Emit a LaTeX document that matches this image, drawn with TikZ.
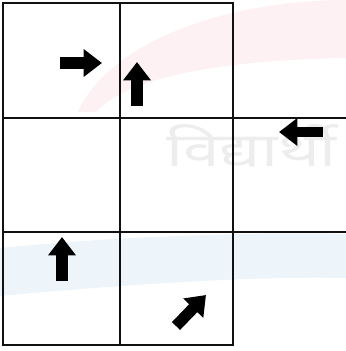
\documentclass[tikz,border=0pt]{standalone}
\usepackage{fontspec}
\usepackage{graphicx}
\newfontfamily\devfont[Script=Devanagari]{Noto Sans}
\usetikzlibrary{arrows.meta}
\definecolor{gridink}{HTML}{111111}
\definecolor{markpink}{HTML}{FDF1F3}
\definecolor{markblue}{HTML}{EDF5FB}
\definecolor{marktext}{HTML}{EDEDED}
\tikzset{
  gridline/.style={line width=1.2pt,draw=gridink},
  move/.style={-{Triangle[width=0.8cm,length=0.55cm]},line width=0.34cm,draw=black},
  watermark/.style={font=\devfont\fontsize{40}{40}\selectfont,text=marktext,inner sep=0pt},
}
\begin{document}
\begin{tikzpicture}[x=0.03cm,y=-0.03cm]
  \useasboundingbox (0,0) rectangle (346,351);
  \clip (0,0) rectangle (346,351);
  % watermark
  \fill[markpink] (78,112) .. controls (110,40) and (230,0) .. (346,0) -- (346,58)
        .. controls (230,60) and (130,75) .. (96,112) -- cycle;
  \fill[markblue] (0,248) .. controls (120,236) and (250,232) .. (346,234) -- (346,278)
        .. controls (250,276) and (120,285) .. (0,296) -- cycle;
  \node[watermark,anchor=base west] (mark) at (166,166) {\scalebox{1.4}[1]{विद्यार्थी}};
  % grid
  \draw[gridline] (3,3) rectangle (233,345);
  \draw[gridline] (120,3) -- (120,345);
  \draw[gridline] (3,118) -- (346,118);
  \draw[gridline] (3,232) -- (346,232);
  % moves
  \coordinate (a0) at (60,63);  \coordinate (a1) at (102,63);
  \coordinate (b0) at (137,106); \coordinate (b1) at (137,62);
  \coordinate (c0) at (323,132); \coordinate (c1) at (279,132);
  \coordinate (d0) at (62,281); \coordinate (d1) at (62,237);
  \coordinate (e0) at (176,326); \coordinate (e1) at (206,295);
  \draw[move] (a0) -- (a1);
  \draw[move] (b0) -- (b1);
  \draw[move,line width=0.28cm] (c0) -- (c1);
  \draw[move] (d0) -- (d1);
  \draw[move] (e0) -- (e1);
\end{tikzpicture}
\end{document}
